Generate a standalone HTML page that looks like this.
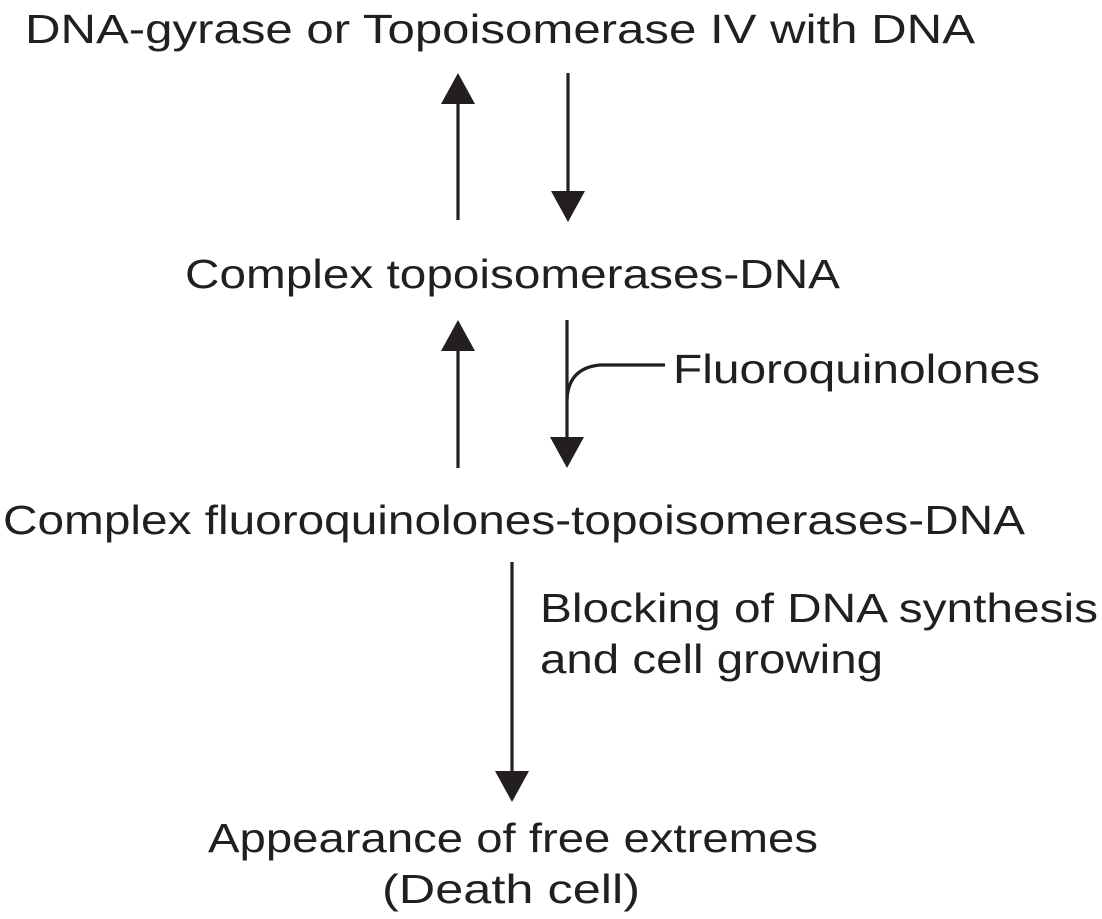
<!DOCTYPE html>
<html><head><meta charset="utf-8"><style>
html,body{margin:0;padding:0;background:#fff;}
svg{display:block;}
text{font-family:"Liberation Sans",Arial,sans-serif;font-size:41px;fill:#231f20;}
</style></head><body>
<svg width="1102" height="919" viewBox="0 0 1102 919" xmlns="http://www.w3.org/2000/svg">
<g stroke="#231f20" stroke-width="3.2" fill="none">
<line x1="458" y1="220" x2="458" y2="100"/>
<line x1="568" y1="73" x2="568" y2="195"/>
<line x1="458" y1="468" x2="458" y2="348"/>
<line x1="567" y1="320" x2="567" y2="440"/>
<path d="M665 365 L600 365 Q568 368 567 400"/>
<line x1="512" y1="562" x2="512" y2="772"/>
</g>
<g fill="#231f20">
<polygon points="458,73 441,104 475,104"/>
<polygon points="568,222 551,191 585,191"/>
<polygon points="458,320 441,351 475,351"/>
<polygon points="567,468 550,437 584,437"/>
<polygon points="512,802 495,771 529,771"/>
</g>
<text x="25" y="43" textLength="950" lengthAdjust="spacingAndGlyphs">DNA-gyrase or Topoisomerase IV with DNA</text>
<text x="185" y="288" textLength="655" lengthAdjust="spacingAndGlyphs">Complex topoisomerases-DNA</text>
<text x="673" y="383" textLength="367" lengthAdjust="spacingAndGlyphs">Fluoroquinolones</text>
<text x="3" y="534" textLength="1022" lengthAdjust="spacingAndGlyphs">Complex fluoroquinolones-topoisomerases-DNA</text>
<text x="540" y="622" textLength="558" lengthAdjust="spacingAndGlyphs">Blocking of DNA synthesis</text>
<text x="540" y="673" textLength="343" lengthAdjust="spacingAndGlyphs">and cell growing</text>
<text x="208" y="852" textLength="610" lengthAdjust="spacingAndGlyphs">Appearance of free extremes</text>
<text x="382" y="903" textLength="258" lengthAdjust="spacingAndGlyphs">(Death cell)</text>
</svg>
</body></html>
